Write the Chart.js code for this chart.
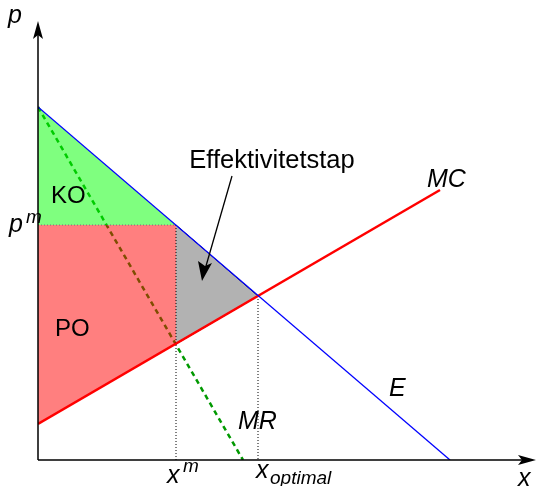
<!DOCTYPE html>
<html>
<head>
<meta charset="utf-8">
<script src="https://cdn.jsdelivr.net/npm/chart.js@4/dist/chart.umd.min.js"></script>
<style>
  body { margin: 0; background: #fff; }
  #wrap { width: 536px; height: 486px; position: relative; }
</style>
</head>
<body>
<div id="wrap"><canvas id="econChart"></canvas></div>
<script>
// curves, as quantity (x) / price (p) pairs
const demandX = [0, 412];
const demandP = [353, 0];
const mcX = [0, 402];
const mcP = [36, 270];
const mrX = [0, 205];
const mrP = [353, 0];

// monopoly and optimum points
const xMono = 138, pMono = 235, mcAtMono = 116;
const xOpt = 220, pOpt = 164;

const pts = (xs, ps) => xs.map((x, i) => ({ x: x, y: ps[i] }));

const koArea = pts([0, xMono, 0], [demandP[0], pMono, pMono]);
const poArea = pts([0, xMono, xMono, 0], [pMono, pMono, mcAtMono, mcP[0]]);
const lossArea = pts([xMono, xOpt, xMono], [pMono, pOpt, mcAtMono]);

const line = (data, color, width, extra) => Object.assign({
  data: data, borderColor: color, borderWidth: width, pointRadius: 0,
  fill: false, tension: 0
}, extra || {});

// axes with arrows and all the text labels
const decorations = {
  id: 'decorations',
  afterDatasetsDraw(chart) {
    const ctx = chart.ctx;
    const xs = chart.scales.x, ys = chart.scales.y;
    const ox = xs.getPixelForValue(0), oy = ys.getPixelForValue(0);
    ctx.save();
    ctx.strokeStyle = '#000';
    ctx.fillStyle = '#000';
    ctx.lineWidth = 1.5;
    ctx.beginPath();
    ctx.moveTo(ox, oy); ctx.lineTo(ox, 30);
    ctx.moveTo(ox, oy); ctx.lineTo(528, oy);
    ctx.stroke();
    // arrow heads
    ctx.beginPath();
    ctx.moveTo(ox, 21); ctx.lineTo(ox - 5, 39); ctx.lineTo(ox, 35); ctx.lineTo(ox + 5, 39); ctx.closePath();
    ctx.fill();
    ctx.beginPath();
    ctx.moveTo(536, oy); ctx.lineTo(518, oy - 5); ctx.lineTo(522, oy); ctx.lineTo(518, oy + 5); ctx.closePath();
    ctx.fill();

    // arrow pointing at the deadweight loss
    ctx.lineWidth = 1.3;
    ctx.beginPath();
    ctx.moveTo(232, 176); ctx.lineTo(206, 266);
    ctx.stroke();
    ctx.beginPath();
    ctx.moveTo(202, 281); ctx.lineTo(198, 261); ctx.lineTo(205, 266); ctx.lineTo(212, 263); ctx.closePath();
    ctx.fill();

    const txt = (s, x, y, size, italic) => {
      ctx.font = (italic ? 'italic ' : '') + size + 'px "Liberation Sans", Arial, sans-serif';
      ctx.fillText(s, x, y);
    };
    ctx.textAlign = 'left';
    ctx.textBaseline = 'alphabetic';
    txt('p', 8, 23, 25, true);
    txt('x', 518, 486, 25, true);
    txt('p', 9, 232, 25, true);
    txt('m', 26, 223, 19, true);
    txt('x', 167, 483, 25, true);
    txt('m', 183, 472, 19, true);
    txt('x', 256, 478, 25, true);
    txt('optimal', 270, 484, 19, true);
    txt('MC', 427, 187, 25, true);
    txt('E', 389, 396, 25, true);
    txt('MR', 238, 429, 25, true);
    txt('KO', 51, 203, 24, false);
    txt('PO', 55, 336, 24, false);
    ctx.textAlign = 'center';
    txt('Effektivitetstap', 272, 168, 25.5, false);
    ctx.restore();
  }
};

const ctx = document.getElementById('econChart').getContext('2d');
const myChart = new Chart(ctx, {
  type: 'line',
  data: {
    datasets: [
      line(pts(demandX, demandP), '#0000ff', 1.3, { order: 1 }),
      line(pts(mcX, mcP), '#ff0000', 2.5, { order: 1 }),
      line(pts([0, xMono], [pMono, pMono]), '#777', 1.2, { borderDash: [1, 2], order: 3 }),
      line(pts([xMono, xMono], [pMono, 0]), '#000', 1, { borderDash: [1, 2], order: 3 }),
      line(pts([xOpt, xOpt], [pOpt, 0]), '#000', 1, { borderDash: [1, 2], order: 3 }),
      line(lossArea, '#000', 1, { fill: 'shape', backgroundColor: 'rgba(102,102,102,0.5)', order: 4 }),
      line(koArea, 'rgba(0,0,0,0)', 0, { fill: 'shape', backgroundColor: 'rgba(0,255,0,0.5)', order: 4 }),
      line(poArea, 'rgba(0,0,0,0)', 0, { fill: 'shape', backgroundColor: 'rgba(255,0,0,0.5)', order: 4 }),
      line(pts(mrX, mrP), '#009900', 2.5, { borderDash: [5, 4], order: 5 })
    ]
  },
  options: {
    responsive: true,
    maintainAspectRatio: false,
    animation: false,
    layout: { padding: { left: 38, right: 0, top: 0, bottom: 26 } },
    scales: {
      x: { type: 'linear', min: 0, max: 498, display: false },
      y: { type: 'linear', min: 0, max: 460, display: false }
    },
    plugins: {
      legend: { display: false },
      tooltip: { enabled: false }
    }
  },
  plugins: [decorations]
});
</script>
</body>
</html>
